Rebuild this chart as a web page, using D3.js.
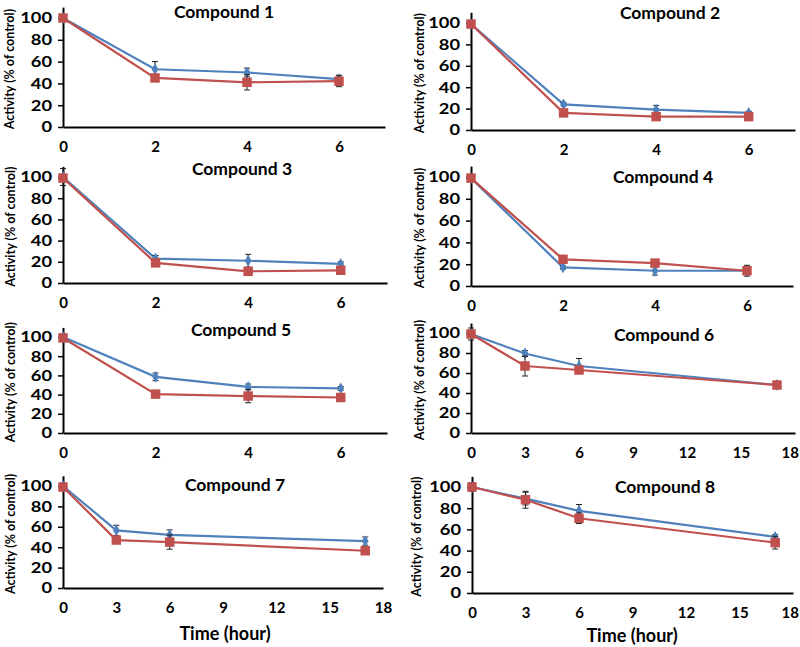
<!DOCTYPE html>
<html><head><meta charset="utf-8">
<script src="https://cdn.jsdelivr.net/npm/d3@7"></script>
<style>
html,body{margin:0;padding:0;background:#fff;}
svg{display:block;font-family:Lato,"Open Sans",sans-serif;font-weight:bold;}
</style></head>
<body>
<svg id="chart" width="800" height="647"></svg>
<script>
// ---------- data ----------
const titles = ["Compound 1","Compound 2","Compound 3","Compound 4","Compound 5","Compound 6","Compound 7","Compound 8"];
const timesShort = [0, 2, 4, 6];
const timesLong = [0, 3, 6, 17];
const xTicksShort = [0, 2, 4, 6];
const xTicksLong = [0, 3, 6, 9, 12, 15, 18];
const yTicks = [0, 20, 40, 60, 80, 100];
const yLabel = "Activity (% of control)";
const xLabel = "Time (hour)";

const blueValues = [
  [100, 53, 50, 44],
  [99, 24, 19, 16],
  [100, 23, 21, 18],
  [99, 17, 14, 14],
  [100, 58.5, 48, 46.5],
  [99, 79.5, 67, 48],
  [100, 56.5, 52, 46],
  [100, 89, 77.5, 53]
];
const blueErrors = [
  [1, 7, 4, 3.5],
  [1, 1.5, 4, 1.5],
  [8, 3, 6, 2],
  [1, 1.5, 4, 2],
  [3, 4, 3, 2],
  [6, 3, 7.5, 2],
  [1, 5, 5, 4],
  [4, 6, 6, 2]
];
const redValues = [
  [100, 45, 41, 42],
  [99, 16, 12.5, 12.5],
  [99, 19, 11, 12],
  [99, 24.5, 21, 14],
  [99, 40.5, 38.5, 37],
  [99, 67, 63, 48],
  [99, 47, 45, 36.5],
  [100, 88, 70.5, 47.5]
];
const redErrors = [
  [1, 1, 7, 5],
  [1, 1, 1, 1],
  [1, 2, 1, 2],
  [1, 2, 2, 5],
  [3, 3, 7, 4],
  [2, 10, 2, 2],
  [1, 2, 7, 3],
  [2, 8, 5, 6]
];

// ---------- layout ----------
const layout = [
  {x0:63,  x1:385, y0:127, y100:18,  tx:224, ty:14,  lx:11,  long:false},
  {x0:471, x1:795, y0:130, y100:23,  tx:670, ty:15,  lx:421, long:false},
  {x0:63,  x1:387, y0:283, y100:177, tx:242, ty:171, lx:12,  long:false},
  {x0:471, x1:793, y0:286, y100:177, tx:663, ty:179, lx:421, long:false},
  {x0:63,  x1:387, y0:433, y100:337, tx:241, ty:332, lx:12,  long:false},
  {x0:471, x1:795, y0:433, y100:333, tx:664, ty:337, lx:421, long:true},
  {x0:63,  x1:383, y0:588, y100:486, tx:235, ty:487, lx:12,  long:true, xl:[225,635]},
  {x0:472, x1:793, y0:593, y100:487, tx:665, ty:489, lx:418, long:true, xl:[632,637]}
];
const blue = "#4F81BD", red = "#C0504D";
const yScaleX = 1.22;

const svg = d3.select("#chart");

layout.forEach((L, i) => {
  const times = L.long ? timesLong : timesShort;
  const xMax = L.long ? 18 : 7;
  const x = d3.scaleLinear().domain([0, xMax]).range([L.x0, L.x1]);
  const yTop = L.y0 - (L.y0 - L.y100) * 1.1;
  const y = d3.scaleLinear().domain([0, 110]).range([L.y0, yTop]);
  const g = svg.append("g");

  // axes
  const ya = g.append("g").attr("transform", `translate(${L.x0},0)`)
    .call(d3.axisLeft(y).tickValues(yTicks).tickSize(5).tickSizeOuter(0).tickPadding(4));
  const xa = g.append("g").attr("transform", `translate(0,${L.y0})`)
    .call(d3.axisBottom(x).tickValues(L.long ? xTicksLong : xTicksShort)
      .tickFormat(d3.format("d")).tickSize(0).tickPadding(14));
  [ya, xa].forEach(a => {
    a.select(".domain").attr("stroke", "#000").attr("stroke-width", 2);
    a.selectAll(".tick line").attr("stroke", "#000").attr("stroke-width", 1.5);
    a.selectAll("text").attr("font-size", 15).attr("font-weight", "bold")
      .attr("font-family", "Lato, sans-serif").attr("fill", "#000");
  });
  ya.selectAll("text").attr("x", -11 / yScaleX).attr("transform", `scale(${yScaleX},1)`);
  // keep last x label inside the picture
  xa.selectAll(".tick").each(function () {
    const t = d3.select(this).select("text");
    const w = t.node().getComputedTextLength();
    const tx = +d3.select(this).attr("transform").match(/translate\(([-\d.]+)/)[1];
    if (tx + w / 2 > 799) t.attr("dx", (799 - (tx + w / 2)));
  });

  // title
  g.append("text").attr("x", L.tx).attr("y", L.ty).attr("text-anchor", "middle")
    .attr("dominant-baseline", "middle").attr("font-size", 17.5).text(titles[i]);
  // y label
  g.append("text").attr("transform", `translate(${L.lx},${(L.y0 + yTop) / 2 + 2}) rotate(-90)`)
    .attr("text-anchor", "middle").attr("dominant-baseline", "middle")
    .attr("font-size", 12.5).text(yLabel);
  if (L.xl) {
    g.append("text").attr("x", L.xl[0]).attr("y", L.xl[1]).attr("text-anchor", "middle")
      .attr("dominant-baseline", "middle").attr("font-size", 18).text(xLabel);
  }

  const series = [
    {vals: blueValues[i], errs: blueErrors[i], color: blue, sym: d3.symbolDiamond, size: 40},
    {vals: redValues[i], errs: redErrors[i], color: red, sym: d3.symbolSquare, size: 90}
  ];
  const line = d3.line().x(d => x(d[0])).y(d => y(d[1]));
  series.forEach(s => {
    const pts = times.map((t, k) => [t, s.vals[k], s.errs[k]]);
    g.append("path").datum(pts).attr("d", line).attr("fill", "none")
      .attr("stroke", s.color).attr("stroke-width", 2.2);
    const eb = g.append("g").attr("stroke", "#222").attr("stroke-width", 1);
    pts.forEach(p => {
      const cx = x(p[0]), yt = y(p[1] + p[2]), yb = y(p[1] - p[2]);
      eb.append("line").attr("x1", cx).attr("x2", cx).attr("y1", yt).attr("y2", yb);
      eb.append("line").attr("x1", cx - 3).attr("x2", cx + 3).attr("y1", yt).attr("y2", yt);
      eb.append("line").attr("x1", cx - 3).attr("x2", cx + 3).attr("y1", yb).attr("y2", yb);
    });
    g.append("g").selectAll("path").data(pts).join("path")
      .attr("transform", p => `translate(${x(p[0])},${y(p[1])})`)
      .attr("d", d3.symbol().type(s.sym).size(s.size))
      .attr("fill", s.color);
  });
});
</script>
</body></html>
